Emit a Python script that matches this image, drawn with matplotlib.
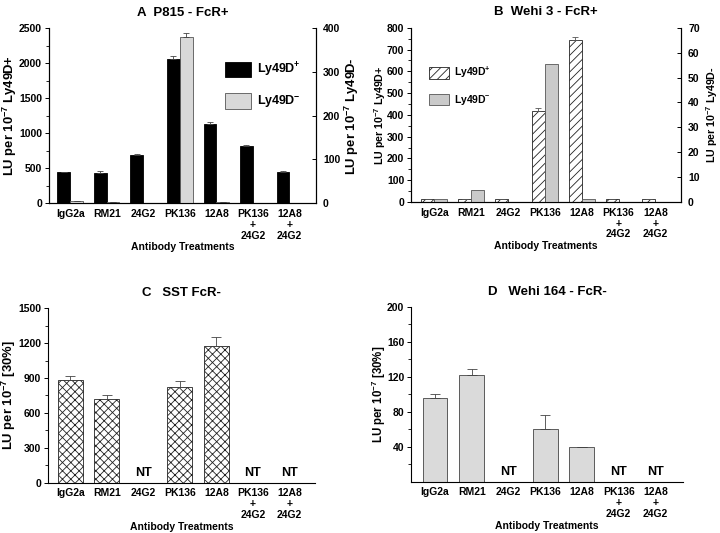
import matplotlib
matplotlib.use("Agg")
import matplotlib.pyplot as plt
import numpy as np
from matplotlib.patches import Patch
from matplotlib.ticker import MultipleLocator, FixedLocator

plt.rcParams['font.family'] = ['Liberation Sans', 'DejaVu Sans']
plt.rcParams['font.weight'] = 'bold'
plt.rcParams['mathtext.fontset'] = 'custom'
plt.rcParams['mathtext.rm'] = 'Liberation Sans:bold'
plt.rcParams['mathtext.it'] = 'Liberation Sans:bold'
plt.rcParams['mathtext.bf'] = 'Liberation Sans:bold'
plt.rcParams['mathtext.default'] = 'rm'
plt.rcParams['hatch.linewidth'] = 0.6
plt.rcParams['axes.linewidth'] = 0.8

categories = ["IgG2a", "RM21", "24G2", "PK136", "12A8", "PK136\n+\n24G2", "12A8\n+\n24G2"]

# Panel A: P815 - FcR+
a_pos = [440, 425, 685, 2062, 1130, 819, 446]
a_pos_err = [8, 32, 12, 48, 28, 10, 10]
a_neg = [4.6, 2.3, 0, 379, 1.5, 0, 0]
a_neg_err = [0, 0, 0, 10, 0, 0, 0]

# Panel B: Wehi 3 - FcR+
b_pos = [12, 12, 12, 416, 742, 12, 12]
b_pos_err = [3, 3, 3, 14, 15, 3, 3]
b_neg = [1.1, 5.0, 0, 55.3, 1.1, 0, 0]

# Panel C: SST FcR-  (None = not tested)
c_vals = [883, 720, None, 820, 1173, None, None]
c_err = [37, 37, 0, 57, 83, 0, 0]

# Panel D: Wehi 164 - FcR-
d_vals = [96, 122, None, 61, 39.6, None, None]
d_err = [5, 7, 0, 15.6, 0.8, 0, 0]

x = np.arange(len(categories))
fig = plt.figure(figsize=(7.2, 5.33), dpi=100)

tick_fs = 7.5
lab_fs = 7.5
title_fs = 9.5


def style_x(ax):
    ax.set_xticks(x)
    ax.set_xticklabels(categories, fontsize=tick_fs, fontweight='bold', linespacing=1.12)
    ax.tick_params(axis='x', length=0, pad=4)
    ax.set_xlabel("Antibody Treatments", fontsize=lab_fs, fontweight='bold', labelpad=1)
    ax.spines['top'].set_visible(False)


def style_left(ax, major, minor=None):
    if isinstance(major, (list, tuple)):
        ax.yaxis.set_major_locator(FixedLocator(major))
    else:
        ax.yaxis.set_major_locator(MultipleLocator(major))
    if minor is not None:
        if isinstance(minor, (list, tuple)):
            ax.yaxis.set_minor_locator(FixedLocator(minor))
        else:
            ax.yaxis.set_minor_locator(MultipleLocator(minor))
    ax.tick_params(axis='y', labelsize=tick_fs, length=3, width=0.7, pad=2)
    ax.tick_params(axis='y', which='minor', length=2.5, width=0.6)
    for t in ax.get_yticklabels():
        t.set_fontweight('bold')


def style_right(ax, major):
    ax.yaxis.set_major_locator(MultipleLocator(major))
    ax.tick_params(axis='y', labelsize=tick_fs, length=3, width=0.7, pad=5, direction='in')
    for t in ax.get_yticklabels():
        t.set_fontweight('bold')
    ax.spines['top'].set_visible(False)


def set_ylab(ax, text, fs, xc):
    ax.set_ylabel(text, fontsize=fs, fontweight='bold', va='center', rotation=90)
    ax.yaxis.label.set_verticalalignment('center')
    ax.yaxis.set_label_coords(xc, 0.5)


def upper_err(vals, errs):
    v = np.array([0 if e is None else e for e in vals], dtype=float)
    return v, [np.zeros(len(errs)), np.array(errs, dtype=float)]


w = 0.35
ekw = dict(ecolor='#444444', elinewidth=0.6, capsize=2.5, capthick=0.6)

# ---------- Panel A ----------
axA = fig.add_axes([0.068, 0.619, 0.371, 0.328])
axA.bar(x - w / 2, a_pos, w, color='black', edgecolor='black', linewidth=0.6,
        yerr=[np.zeros(7), a_pos_err], error_kw=ekw)
axA.set_ylim(0, 2500)
axA.set_xlim(-0.58, 6.73)
style_left(axA, 500, 250)
set_ylab(axA, "LU per 10$^{-7}$ Ly49D+", 9.4, -0.146)
style_x(axA)
axA2 = axA.twinx()
axA2.bar(x + w / 2, a_neg, w, color='#d8d8d8', edgecolor='#555555', linewidth=0.6,
         yerr=[np.zeros(7), a_neg_err], error_kw=ekw)
axA2.set_ylim(0, 400)
style_right(axA2, 100)
set_ylab(axA2, "LU per 10$^{-7}$ Ly49D-", 9.4, 1.134)
axA.set_title("A  P815 - FcR+", fontsize=title_fs, fontweight='bold', pad=9)
hA = [Patch(facecolor='black', edgecolor='black', linewidth=0.6),
      Patch(facecolor='#d8d8d8', edgecolor='#555555', linewidth=0.6)]
axA2.legend(hA, ["Ly49D$^{+}$", "Ly49D$^{-}$"], loc='upper left', bbox_to_anchor=(0.634, 0.85),
            frameon=False, fontsize=9, handlelength=2.1, handleheight=1.5, labelspacing=1.15,
            borderpad=0, handletextpad=0.5)

# ---------- Panel B ----------
axB = fig.add_axes([0.571, 0.621, 0.375, 0.327])
axB.bar(x - w / 2, b_pos, w, color='white', edgecolor='#222222', linewidth=0.6, hatch='////',
        yerr=[np.zeros(7), b_pos_err], error_kw=dict(ekw, ecolor='#555555'))
axB.set_ylim(0, 800)
axB.set_xlim(-0.63, 6.70)
style_left(axB, 100, 50)
set_ylab(axB, "LU per 10$^{-7}$ Ly49D+", 7.7, -0.115)
style_x(axB)
axB2 = axB.twinx()
axB2.bar(x + w / 2, b_neg, w, color='#cacaca', edgecolor='#555555', linewidth=0.6)
axB2.set_ylim(0, 70)
style_right(axB2, 10)
set_ylab(axB2, "LU per 10$^{-7}$ Ly49D-", 7.7, 1.113)
axB.set_title("B  Wehi 3 - FcR+", fontsize=title_fs, fontweight='bold', pad=9)
hB = [Patch(facecolor='white', edgecolor='#222222', linewidth=0.6, hatch='////'),
      Patch(facecolor='#cacaca', edgecolor='#555555', linewidth=0.6)]
axB2.legend(hB, ["Ly49D$^{+}$", "Ly49D$^{-}$"], loc='upper left', bbox_to_anchor=(0.048, 0.815),
            frameon=False, fontsize=7.5, handlelength=1.85, handleheight=1.3, labelspacing=1.2,
            borderpad=0, handletextpad=0.5)

# ---------- Panel C ----------
axC = fig.add_axes([0.067, 0.094, 0.371, 0.328])
cv, ce = upper_err(c_vals, c_err)
mask = np.array([v is not None for v in c_vals])
axC.bar(x[mask], cv[mask], 0.68, color='white', edgecolor='#222222', linewidth=0.6, hatch='xxxx',
        yerr=[ce[0][mask], ce[1][mask]], error_kw=dict(ekw, capsize=3.5))
for i, v in enumerate(c_vals):
    if v is None:
        axC.text(x[i], 30, "NT", ha='center', va='bottom', fontsize=9, fontweight='bold')
axC.set_ylim(0, 1500)
axC.set_xlim(-0.60, 6.71)
style_left(axC, 300, 150)
set_ylab(axC, "LU per 10$^{-7}$ [30%]", 9.4, -0.146)
style_x(axC)
axC.spines['right'].set_visible(False)
axC.set_title("C   SST FcR-", fontsize=title_fs, fontweight='bold', pad=9)

# ---------- Panel D ----------
axD = fig.add_axes([0.571, 0.096, 0.378, 0.328])
dv, de = upper_err(d_vals, d_err)
mask = np.array([v is not None for v in d_vals])
axD.bar(x[mask], dv[mask], 0.68, color='#dadada', edgecolor='#444444', linewidth=0.6,
        yerr=[de[0][mask], de[1][mask]], error_kw=dict(ekw, capsize=3.5))
for i, v in enumerate(d_vals):
    if v is None:
        axD.text(x[i], 4, "NT", ha='center', va='bottom', fontsize=9, fontweight='bold')
axD.set_ylim(0, 200)
axD.set_xlim(-0.65, 6.76)
style_left(axD, [40, 80, 120, 160, 200], [20, 60, 100, 140, 180])
set_ylab(axD, "LU per 10$^{-7}$ [30%]", 8.3, -0.118)
style_x(axD)
axD.spines['right'].set_visible(False)
axD.set_title("D   Wehi 164 - FcR-", fontsize=title_fs, fontweight='bold', pad=9)

fig.savefig("out.png", dpi=100)
